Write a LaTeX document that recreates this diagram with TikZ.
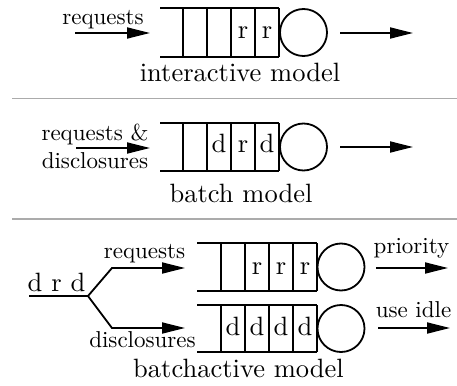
\documentclass[tikz,border=0pt]{standalone}
\usepackage{fontspec}
\setmainfont{lmroman10-regular}[Extension=.otf]
\usetikzlibrary{arrows.meta}
\begin{document}
\begin{tikzpicture}[x=1pt,y=-1pt,line width=1.8pt,
  arr/.style={-{Triangle[length=23pt,width=11pt]}},
  big/.style={font=\fontsize{26.5}{30}\selectfont,anchor=base,inner sep=0pt,outer sep=0pt},
  sml/.style={font=\fontsize{23}{27}\selectfont,anchor=base,inner sep=0pt,outer sep=0pt},
  srv/.style={circle,draw,minimum size=47pt,inner sep=0pt,outer sep=0pt},
  sepline/.style={draw=black!33,line width=1.6pt}]
\useasboundingbox (0,0) rectangle (457,385);

% ---------- interactive model ----------
\draw (160,8) -- (279,8) (160,57) -- (279,57);
\foreach \x in {183,207,231,255,279} \draw (\x,8) -- (\x,57);
\node[srv] (s1) at (303.5,32.5) {};
\node[big] (c1a) at (243,39) {r};
\node[big] (c1b) at (267,39) {r};
\coordinate (i1s) at (75,33);
\coordinate (i1e) at (150,33);
\draw[arr] (i1s) -- (i1e);
\node[sml] (l1) at (103,25) {requests};
\coordinate (o1s) at (340,33);
\coordinate (o1e) at (413,33);
\draw[arr] (o1s) -- (o1e);
\node[big] (t1) at (240,82) {interactive model};

\coordinate (sepA1) at (12,98.5);
\coordinate (sepA2) at (457,98.5);
\draw[sepline] (sepA1) -- (sepA2);

% ---------- batch model ----------
\draw (160,123) -- (279,123) (160,171) -- (279,171);
\foreach \x in {183,207,231,255,279} \draw (\x,123) -- (\x,171);
\node[srv] (s2) at (303.5,147) {};
\node[big] (c2a) at (219,152) {d};
\node[big] (c2b) at (243,152) {r};
\node[big] (c2c) at (267,152) {d};
\node[sml] (l2a) at (95,140) {requests \&};
\node[sml] (l2b) at (95,168) {disclosures};
\coordinate (i2s) at (76,148);
\coordinate (i2e) at (150,148);
\draw[arr] (i2s) -- (i2e);
\coordinate (o2s) at (340,147);
\coordinate (o2e) at (413,147);
\draw[arr] (o2s) -- (o2e);
\node[big] (t2) at (241,202) {batch model};

\coordinate (sepB1) at (12,219);
\coordinate (sepB2) at (457,219);
\draw[sepline] (sepB1) -- (sepB2);

% ---------- batchactive model ----------
\draw (197,243) -- (317,243) (197,291) -- (317,291);
\foreach \x in {221,245,269,293,317} \draw (\x,243) -- (\x,291);
\node[srv] (s3) at (341,267) {};
\node[big] (c3a) at (257,274) {r};
\node[big] (c3b) at (281,274) {r};
\node[big] (c3c) at (305,274) {r};

\draw (197,305) -- (317,305) (197,352) -- (317,352);
\foreach \x in {221,245,269,293,317} \draw (\x,305) -- (\x,352);
\node[srv] (s4) at (341,328.5) {};
\node[big] (c4a) at (233,335) {d};
\node[big] (c4b) at (257,335) {d};
\node[big] (c4c) at (281,335) {d};
\node[big] (c4d) at (305,335) {d};

\node[big] (drd) at (56.5,291) {d r d};
\coordinate (in3) at (29,296);
\coordinate (fork) at (88,296);
\coordinate (up1) at (112,268);
\coordinate (up2) at (185,268);
\coordinate (dn1) at (112,328);
\coordinate (dn2) at (185,328);
\draw (in3) -- (fork);
\draw[arr] (fork) -- (up1) -- (up2);
\draw[arr] (fork) -- (dn1) -- (dn2);
\node[sml] (l3a) at (144.5,258) {requests};
\node[sml] (l3b) at (142.5,347) {disclosures};

\node[sml] (l3c) at (411.5,253) {priority};
\coordinate (o3s) at (376,268);
\coordinate (o3e) at (448,268);
\draw[arr] (o3s) -- (o3e);
\node[sml] (l3d) at (413.5,317) {use idle};
\coordinate (o4s) at (378,328);
\coordinate (o4e) at (450,328);
\draw[arr] (o4s) -- (o4e);

\node[big] (t3) at (238.5,377) {batchactive model};
\end{tikzpicture}
\end{document}
